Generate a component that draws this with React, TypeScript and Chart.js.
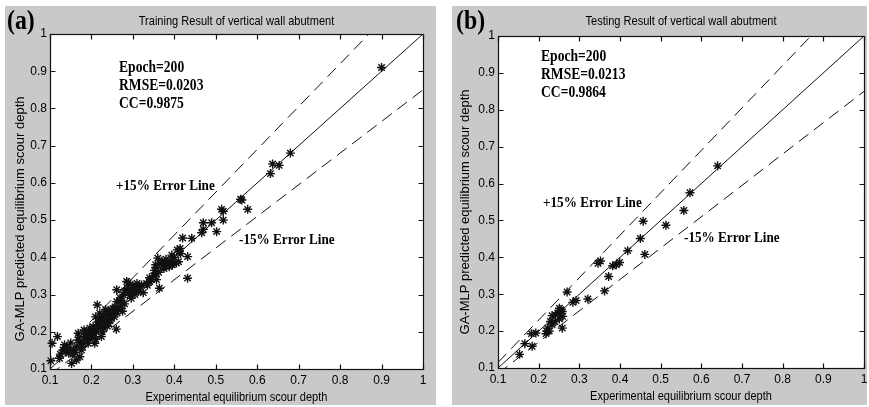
import React, { useEffect, useRef } from "react";
import { Chart, registerables } from "chart.js";

Chart.register(...registerables);

// ---------- data ----------
const tickValues = [0.1, 0.2, 0.3, 0.4, 0.5, 0.6, 0.7, 0.8, 0.9, 1];
const tickLabels = ["0.1", "0.2", "0.3", "0.4", "0.5", "0.6", "0.7", "0.8", "0.9", "1"];

const trainX = [
  0.9, 0.68, 0.637, 0.653, 0.632, 0.563, 0.56, 0.577, 0.514, 0.518, 0.518, 0.47, 0.49, 0.502, 0.466, 0.47,
  0.42, 0.442, 0.432, 0.432, 0.412, 0.414, 0.407, 0.394, 0.41, 0.398, 0.385, 0.373, 0.365, 0.357, 0.356,
  0.357, 0.364, 0.36, 0.39, 0.375, 0.341, 0.333, 0.321, 0.309, 0.301, 0.289, 0.287, 0.293, 0.277, 0.269,
  0.261, 0.257, 0.249, 0.313, 0.325, 0.261, 0.285, 0.296, 0.305, 0.28, 0.214, 0.24, 0.256, 0.26, 0.118,
  0.105, 0.102, 0.131, 0.138, 0.14, 0.123, 0.172, 0.176, 0.172, 0.168, 0.184, 0.192, 0.2, 0.216, 0.216,
  0.224, 0.208, 0.224, 0.232, 0.236, 0.192, 0.164, 0.152, 0.244, 0.25, 0.248, 0.242, 0.23, 0.226, 0.22,
  0.212, 0.206, 0.2, 0.196, 0.19, 0.186, 0.18, 0.178, 0.165, 0.16, 0.155, 0.145, 0.135, 0.15, 0.21, 0.22,
  0.204, 0.228, 0.234, 0.238, 0.255, 0.265, 0.272, 0.275, 0.27, 0.28, 0.3, 0.31, 0.318, 0.335, 0.345,
  0.35, 0.352, 0.362, 0.37, 0.38, 0.395, 0.4, 0.405, 0.415, 0.21, 0.196, 0.182, 0.17,
  0.188, 0.198, 0.207, 0.215, 0.222, 0.235, 0.245, 0.252, 0.262, 0.268, 0.158, 0.168, 0.142, 0.125,
  0.29, 0.298, 0.34, 0.355, 0.38, 0.388,
];
const trainY = [
  0.91, 0.68, 0.651, 0.647, 0.625, 0.554, 0.556, 0.529, 0.529, 0.524, 0.5, 0.493, 0.493, 0.469, 0.466, 0.475,
  0.452, 0.451, 0.402, 0.344, 0.415, 0.424, 0.42, 0.406, 0.388, 0.384, 0.379, 0.379, 0.384, 0.373, 0.357,
  0.34, 0.317, 0.398, 0.39, 0.37, 0.335, 0.33, 0.326, 0.321, 0.312, 0.332, 0.317, 0.299, 0.299, 0.285,
  0.281, 0.267, 0.259, 0.308, 0.305, 0.313, 0.335, 0.29, 0.3, 0.275, 0.272, 0.254, 0.258, 0.207, 0.187,
  0.169, 0.122, 0.151, 0.148, 0.158, 0.129, 0.173, 0.151, 0.133, 0.196, 0.187, 0.196, 0.205, 0.209, 0.227,
  0.231, 0.169, 0.187, 0.222, 0.23, 0.169, 0.124, 0.115, 0.245, 0.25, 0.236, 0.222, 0.21, 0.2, 0.218,
  0.2, 0.195, 0.19, 0.182, 0.18, 0.195, 0.17, 0.16, 0.16, 0.145, 0.14, 0.142, 0.165, 0.17, 0.24, 0.25,
  0.214, 0.242, 0.26, 0.215, 0.24, 0.26, 0.27, 0.255, 0.29, 0.31, 0.325, 0.33, 0.32, 0.325, 0.34,
  0.35, 0.365, 0.36, 0.39, 0.395, 0.38, 0.4, 0.385, 0.41, 0.18, 0.21, 0.205, 0.185,
  0.2, 0.188, 0.205, 0.22, 0.235, 0.248, 0.232, 0.262, 0.25, 0.28, 0.152, 0.178, 0.155, 0.14,
  0.305, 0.315, 0.345, 0.38, 0.385, 0.375,
];

const testX = [
  0.64, 0.572, 0.557, 0.513, 0.457, 0.45, 0.461, 0.419, 0.399, 0.391, 0.382, 0.352, 0.346, 0.372, 0.362,
  0.321, 0.292, 0.284, 0.27, 0.251, 0.258, 0.247, 0.241, 0.233, 0.229, 0.233, 0.222, 0.218, 0.258, 0.259,
  0.251, 0.193, 0.182, 0.184, 0.166, 0.153, 0.226, 0.24, 0.255, 0.22,
];
const testY = [
  0.648, 0.575, 0.527, 0.487, 0.498, 0.451, 0.408, 0.418, 0.386, 0.38, 0.377, 0.39, 0.384, 0.348, 0.309,
  0.287, 0.283, 0.278, 0.306, 0.262, 0.253, 0.249, 0.244, 0.242, 0.226, 0.217, 0.208, 0.193, 0.208, 0.24,
  0.233, 0.195, 0.193, 0.159, 0.166, 0.137, 0.2, 0.225, 0.258, 0.2,
];

// reference lines: y = factor * x
const lineX = [0.1, 1];
const lineFactors = [1, 1.15, 0.85];

const trainStats = ["Epoch=200", "RMSE=0.0203", "CC=0.9875"];
const testStats = ["Epoch=200", "RMSE=0.0213", "CC=0.9864"];
const plusLabel = "+15% Error Line";
const minusLabel = "-15% Error Line";
const xTitle = "Experimental equilibrium scour depth";
const yTitle = "GA-MLP predicted equilibrium scour depth";

// ---------- style ----------
const GRAY = "#c9c9c9";
const SANS = "'Liberation Sans', Arial, Helvetica, sans-serif";
const SERIF = "'Liberation Serif', 'Times New Roman', serif";
const SQUEEZE = 0.85;

type PanelCfg = {
  left: number;
  top: number;
  width: number;
  height: number;
  canvasWidth: number;
  yAxisW: number;
  padTop: number;
  padRight: number;
  xAxisH: number;
  title: string;
  tag: string;
  tagX: number;
  xs: number[];
  ys: number[];
  stats: string[];
  statsX: number;
  statsY: number;
  plusPos: [number, number];
  minusPos: [number, number];
  yTitlePos: [number, number];
  xTitleY: number;
};

const panels: PanelCfg[] = [
  {
    left: 5, top: 6, width: 431, height: 399, canvasWidth: 431,
    yAxisW: 45, padTop: 28, padRight: 13, xAxisH: 36,
    title: "Training Result of vertical wall abutment", tag: "(a)", tagX: 2,
    xs: trainX, ys: trainY, stats: trainStats, statsX: 114, statsY: 62,
    plusPos: [111, 180], minusPos: [234, 234], yTitlePos: [15, 213], xTitleY: 391,
  },
  {
    left: 452, top: 6, width: 415, height: 399, canvasWidth: 425,
    yAxisW: 46, padTop: 30, padRight: 13, xAxisH: 37,
    title: "Testing Result of vertical wall abutment", tag: "(b)", tagX: 4,
    xs: testX, ys: testY, stats: testStats, statsX: 89, statsY: 51,
    plusPos: [91, 197], minusPos: [232, 232], yTitlePos: [13, 206], xTitleY: 390,
  },
];

function squeezedText(
  ctx: CanvasRenderingContext2D, text: string, x: number, y: number,
  font: string, align: CanvasTextAlign, rotate = 0, sx = SQUEEZE
) {
  ctx.save();
  ctx.translate(x, y);
  if (rotate) ctx.rotate(rotate);
  ctx.scale(sx, 1);
  ctx.font = font;
  ctx.fillStyle = "#000";
  ctx.textAlign = align;
  ctx.textBaseline = "middle";
  ctx.fillText(text, 0, 0);
  ctx.restore();
}

function Panel({ cfg }: { cfg: PanelCfg }) {
  const ref = useRef<HTMLCanvasElement>(null);

  useEffect(() => {
    const canvas = ref.current;
    if (!canvas) return;

    const framePlugin = {
      id: "frame",
      beforeDraw(chart: any) {
        const { ctx, chartArea: a } = chart;
        ctx.save();
        ctx.fillStyle = "#fff";
        ctx.fillRect(a.left, a.top, a.right - a.left, a.bottom - a.top);
        ctx.restore();
      },
      afterDraw(chart: any) {
        const { ctx, chartArea: a, scales } = chart;
        const L = Math.round(a.left) + 0.5;
        const R = Math.round(a.right) + 0.5;
        const T = Math.round(a.top) + 0.5;
        const B = Math.round(a.bottom) + 0.5;
        ctx.save();
        ctx.strokeStyle = "#111";
        ctx.lineWidth = 1.2;
        ctx.strokeRect(L, T, R - L, B - T);
        const tl = 5;
        ctx.beginPath();
        tickValues.forEach((v) => {
          const px = Math.round(scales.x.getPixelForValue(v)) + 0.5;
          ctx.moveTo(px, B);
          ctx.lineTo(px, B - tl);
          ctx.moveTo(px, T);
          ctx.lineTo(px, T + tl);
          const py = Math.round(scales.y.getPixelForValue(v)) + 0.5;
          ctx.moveTo(L, py);
          ctx.lineTo(L + tl, py);
          ctx.moveTo(R, py);
          ctx.lineTo(R - tl, py);
        });
        ctx.stroke();
        ctx.restore();

        const cx = (a.left + a.right) / 2;
        squeezedText(ctx, cfg.title, cx, 15, `13px ${SANS}`, "center");
        squeezedText(ctx, xTitle, cx, cfg.xTitleY, `13px ${SANS}`, "center");
        squeezedText(ctx, yTitle, cfg.yTitlePos[0], cfg.yTitlePos[1], `13px ${SANS}`, "center", -Math.PI / 2, 1);
        squeezedText(ctx, cfg.tag, cfg.tagX, 16, `bold 28px ${SERIF}`, "left");
        cfg.stats.forEach((s, i) => {
          squeezedText(ctx, s, cfg.statsX, cfg.statsY + i * 18, `bold 16px ${SERIF}`, "left");
        });
        squeezedText(ctx, plusLabel, cfg.plusPos[0], cfg.plusPos[1], `bold 15.5px ${SERIF}`, "left");
        squeezedText(ctx, minusLabel, cfg.minusPos[0], cfg.minusPos[1], `bold 15.5px ${SERIF}`, "left");
      },
    };

    const lineSets = lineFactors.map((f) => ({
      type: "line" as const,
      data: lineX.map((x) => ({ x, y: x * f })),
      borderColor: "#111",
      borderWidth: 1,
      borderDash: f === 1 ? [] : [12, 7],
      pointRadius: 0,
      fill: false,
      tension: 0,
    }));

    const chart = new Chart(canvas, {
      type: "scatter",
      data: {
        datasets: [
          ...lineSets,
          {
            type: "scatter" as const,
            data: cfg.xs.map((x, i) => ({ x, y: cfg.ys[i] })),
            pointStyle: "star",
            pointRadius: 4.5,
            borderColor: "#111",
            borderWidth: 1.4,
            backgroundColor: "#111",
            clip: false,
          } as any,
        ],
      },
      options: {
        animation: false,
        responsive: false,
        devicePixelRatio: 1,
        events: [],
        layout: { padding: { left: 0, top: cfg.padTop, right: cfg.padRight, bottom: 0 } },
        plugins: { legend: { display: false }, tooltip: { enabled: false }, title: { display: false } },
        scales: {
          x: {
            type: "linear",
            min: 0.1,
            max: 1,
            afterBuildTicks: (s: any) => {
              s.ticks = tickValues.map((v) => ({ value: v }));
            },
            afterFit: (s: any) => {
              s.height = cfg.xAxisH;
            },
            ticks: {
              callback: (_v: any, i: number) => tickLabels[i],
              font: { size: 12, family: SANS },
              color: "#000",
              padding: 4,
              maxRotation: 0,
              autoSkip: false,
            },
            grid: { display: false, drawTicks: false },
            border: { display: false },
          },
          y: {
            type: "linear",
            min: 0.1,
            max: 1,
            afterBuildTicks: (s: any) => {
              s.ticks = tickValues.map((v) => ({ value: v }));
            },
            afterFit: (s: any) => {
              s.width = cfg.yAxisW;
            },
            ticks: {
              callback: (_v: any, i: number) => tickLabels[i],
              font: { size: 12, family: SANS },
              color: "#000",
              padding: 3,
              autoSkip: false,
            },
            grid: { display: false, drawTicks: false },
            border: { display: false },
          },
        },
      } as any,
      plugins: [framePlugin],
    });

    return () => chart.destroy();
  }, [cfg]);

  return (
    <div
      style={{
        position: "absolute",
        left: cfg.left,
        top: cfg.top,
        width: cfg.width,
        height: cfg.height,
        background: GRAY,
        overflow: "hidden",
      }}
    >
      <canvas
        ref={ref}
        width={cfg.canvasWidth}
        height={cfg.height}
        style={{ display: "block", width: cfg.canvasWidth, height: cfg.height }}
      />
    </div>
  );
}

export default function App() {
  return (
    <div
      style={{
        position: "fixed",
        left: 0,
        top: 0,
        width: 869,
        height: 407,
        background: "#fff",
        overflow: "hidden",
      }}
    >
      {panels.map((p) => (
        <Panel key={p.tag} cfg={p} />
      ))}
    </div>
  );
}
